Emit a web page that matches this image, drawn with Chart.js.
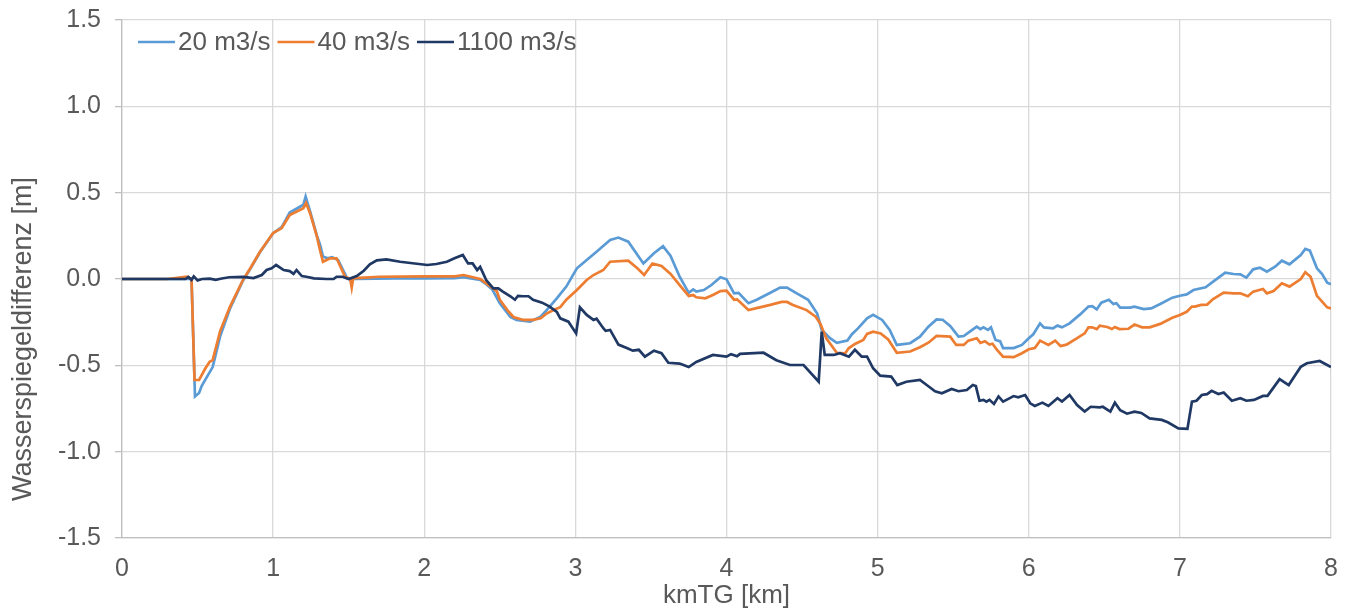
<!DOCTYPE html>
<html>
<head>
<meta charset="utf-8">
<script src="https://cdn.jsdelivr.net/npm/chart.js@4.4.1/dist/chart.umd.min.js"></script>
<style>
  html, body { margin: 0; padding: 0; background: #ffffff; }
  #wrap { width: 1357px; height: 613px; position: relative; }
</style>
</head>
<body>
<div id="wrap"><canvas id="c" width="1357" height="613"></canvas></div>
<script>
// Wasserspiegeldifferenz entlang kmTG für drei Abflüsse
const seriesLabels = ['20 m3/s', '40 m3/s', '1100 m3/s'];

const km20 = [0,0.3,0.46,0.483,0.51,0.527,0.56,0.60,0.65,0.715,0.80,0.85,0.913,1.0,1.057,1.11,1.16,1.20,1.215,1.245,1.29,1.31,1.33,1.36,1.39,1.43,1.49,1.52,1.55,1.8,2.0,2.2,2.26,2.37,2.41,2.45,2.50,2.57,2.61,2.70,2.77,2.81,2.877,2.94,3.01,3.075,3.14,3.23,3.285,3.35,3.45,3.52,3.58,3.63,3.69,3.75,3.78,3.80,3.85,3.90,3.96,4.00,4.05,4.08,4.145,4.20,4.29,4.355,4.40,4.465,4.54,4.60,4.63,4.685,4.73,4.80,4.83,4.87,4.93,4.97,5.03,5.08,5.127,5.215,5.28,5.336,5.39,5.43,5.48,5.535,5.57,5.61,5.656,5.68,5.70,5.73,5.75,5.78,5.81,5.83,5.90,5.955,6.0,6.03,6.075,6.10,6.16,6.19,6.22,6.27,6.34,6.395,6.42,6.45,6.48,6.53,6.56,6.58,6.605,6.67,6.70,6.76,6.81,6.87,6.95,7.0,7.045,7.09,7.17,7.22,7.30,7.355,7.40,7.44,7.485,7.53,7.576,7.63,7.675,7.725,7.80,7.83,7.86,7.907,7.94,7.975,8.0];
const diff20 = [0,0,0,-0.68,-0.66,-0.62,-0.57,-0.51,-0.33,-0.17,-0.01,0.06,0.155,0.265,0.30,0.385,0.41,0.43,0.477,0.39,0.25,0.20,0.13,0.12,0.126,0.11,0.004,0,0,0.004,0.004,0.005,0.01,-0.005,-0.03,-0.06,-0.14,-0.22,-0.237,-0.247,-0.218,-0.18,-0.112,-0.044,0.062,0.11,0.158,0.226,0.24,0.216,0.09,0.149,0.19,0.133,0.013,-0.08,-0.06,-0.073,-0.064,-0.035,0.01,-0.002,-0.083,-0.08,-0.14,-0.12,-0.08,-0.05,-0.05,-0.083,-0.12,-0.2,-0.295,-0.343,-0.37,-0.357,-0.32,-0.286,-0.228,-0.208,-0.237,-0.295,-0.382,-0.372,-0.334,-0.276,-0.234,-0.236,-0.272,-0.334,-0.33,-0.305,-0.276,-0.29,-0.28,-0.295,-0.28,-0.353,-0.36,-0.40,-0.40,-0.382,-0.343,-0.32,-0.257,-0.28,-0.286,-0.27,-0.28,-0.257,-0.205,-0.16,-0.157,-0.176,-0.137,-0.12,-0.145,-0.14,-0.166,-0.166,-0.16,-0.174,-0.17,-0.145,-0.108,-0.097,-0.089,-0.064,-0.048,-0.015,0.037,0.029,0.027,0.008,0.056,0.065,0.042,0.071,0.106,0.085,0.139,0.174,0.165,0.062,0.03,-0.021,-0.03];

const km40 = [0,0.3,0.43,0.46,0.48,0.51,0.55,0.58,0.60,0.65,0.715,0.80,0.85,0.913,1.0,1.057,1.11,1.20,1.218,1.245,1.29,1.31,1.33,1.377,1.42,1.476,1.51,1.52,1.53,1.61,1.7,2.0,2.2,2.26,2.37,2.41,2.48,2.50,2.55,2.59,2.656,2.72,2.77,2.81,2.855,2.90,2.94,3.01,3.075,3.12,3.185,3.23,3.35,3.41,3.455,3.51,3.57,3.63,3.69,3.75,3.78,3.80,3.86,3.91,3.96,4.0,4.05,4.07,4.145,4.22,4.29,4.365,4.40,4.44,4.53,4.59,4.62,4.66,4.73,4.785,4.81,4.85,4.905,4.93,4.97,5.02,5.07,5.127,5.215,5.28,5.336,5.39,5.48,5.52,5.57,5.60,5.656,5.68,5.71,5.74,5.76,5.79,5.83,5.90,5.955,6.0,6.04,6.075,6.13,6.175,6.21,6.25,6.32,6.37,6.395,6.42,6.45,6.47,6.52,6.55,6.57,6.60,6.66,6.70,6.75,6.80,6.87,6.95,7.0,7.045,7.08,7.10,7.14,7.18,7.22,7.29,7.355,7.40,7.42,7.45,7.485,7.55,7.576,7.62,7.675,7.725,7.80,7.83,7.865,7.907,7.975,8.0];
const diff40 = [0,0,0.013,0,-0.585,-0.585,-0.52,-0.48,-0.47,-0.30,-0.16,-0.006,0.064,0.158,0.266,0.295,0.37,0.41,0.44,0.38,0.245,0.168,0.10,0.12,0.12,0.013,0,-0.05,0.005,0.008,0.013,0.015,0.015,0.023,0,-0.025,-0.07,-0.12,-0.18,-0.22,-0.237,-0.237,-0.228,-0.2,-0.18,-0.163,-0.12,-0.064,-0.006,0.023,0.052,0.10,0.106,0.062,0.023,0.09,0.075,0.029,-0.035,-0.098,-0.093,-0.106,-0.112,-0.093,-0.07,-0.068,-0.12,-0.118,-0.18,-0.164,-0.15,-0.133,-0.133,-0.15,-0.18,-0.218,-0.257,-0.343,-0.427,-0.43,-0.40,-0.376,-0.353,-0.318,-0.305,-0.315,-0.35,-0.427,-0.42,-0.395,-0.369,-0.33,-0.334,-0.382,-0.382,-0.357,-0.343,-0.37,-0.36,-0.38,-0.375,-0.41,-0.45,-0.453,-0.43,-0.407,-0.40,-0.357,-0.382,-0.357,-0.388,-0.38,-0.343,-0.315,-0.28,-0.28,-0.29,-0.27,-0.278,-0.29,-0.278,-0.29,-0.288,-0.264,-0.28,-0.28,-0.26,-0.224,-0.208,-0.19,-0.16,-0.16,-0.15,-0.148,-0.116,-0.079,-0.083,-0.083,-0.09,-0.1,-0.073,-0.058,-0.083,-0.07,-0.025,-0.044,0,0.039,0.013,-0.098,-0.164,-0.17];

const km1100 = [0,0.42,0.44,0.46,0.475,0.5,0.53,0.58,0.62,0.66,0.71,0.80,0.87,0.925,0.957,0.99,1.02,1.07,1.11,1.135,1.155,1.19,1.22,1.27,1.355,1.40,1.42,1.46,1.50,1.553,1.60,1.64,1.686,1.75,1.84,2.02,2.08,2.15,2.20,2.255,2.29,2.32,2.35,2.37,2.41,2.457,2.49,2.52,2.57,2.60,2.62,2.655,2.69,2.72,2.78,2.83,2.877,2.90,2.954,3.005,3.03,3.075,3.12,3.14,3.185,3.20,3.23,3.285,3.34,3.38,3.42,3.46,3.52,3.57,3.615,3.69,3.75,3.80,3.91,4.0,4.03,4.07,4.09,4.245,4.33,4.42,4.51,4.61,4.63,4.65,4.71,4.75,4.81,4.85,4.895,4.93,4.97,5.017,5.09,5.13,5.19,5.28,5.325,5.38,5.425,5.49,5.535,5.59,5.63,5.65,5.674,5.70,5.72,5.74,5.77,5.80,5.83,5.90,5.93,5.976,6.01,6.04,6.09,6.13,6.19,6.22,6.27,6.32,6.37,6.41,6.47,6.49,6.54,6.57,6.605,6.65,6.70,6.745,6.80,6.88,6.92,6.99,7.05,7.08,7.11,7.145,7.18,7.21,7.255,7.29,7.344,7.40,7.44,7.49,7.55,7.58,7.66,7.72,7.80,7.84,7.925,8.0];
const diff1100 = [0,0,0.012,-0.005,0.015,-0.008,0,0.002,-0.005,0.003,0.01,0.012,0.005,0.023,0.052,0.062,0.081,0.052,0.046,0.03,0.052,0.017,0.013,0.004,0,0,0.013,0.013,0,0.017,0.048,0.085,0.108,0.114,0.10,0.081,0.087,0.10,0.12,0.139,0.09,0.09,0.052,0.07,-0.006,-0.054,-0.054,-0.073,-0.10,-0.12,-0.098,-0.10,-0.10,-0.12,-0.137,-0.16,-0.19,-0.228,-0.247,-0.315,-0.164,-0.208,-0.237,-0.23,-0.285,-0.30,-0.295,-0.38,-0.40,-0.415,-0.41,-0.45,-0.415,-0.43,-0.485,-0.49,-0.51,-0.48,-0.44,-0.45,-0.435,-0.447,-0.434,-0.427,-0.47,-0.498,-0.498,-0.595,-0.305,-0.44,-0.44,-0.43,-0.45,-0.41,-0.45,-0.45,-0.517,-0.56,-0.565,-0.614,-0.595,-0.585,-0.614,-0.65,-0.662,-0.637,-0.65,-0.643,-0.614,-0.62,-0.705,-0.70,-0.71,-0.70,-0.724,-0.68,-0.71,-0.678,-0.685,-0.672,-0.72,-0.735,-0.716,-0.735,-0.69,-0.71,-0.672,-0.73,-0.768,-0.74,-0.743,-0.74,-0.768,-0.716,-0.76,-0.78,-0.768,-0.776,-0.807,-0.816,-0.83,-0.865,-0.868,-0.71,-0.705,-0.672,-0.667,-0.648,-0.666,-0.657,-0.705,-0.69,-0.705,-0.70,-0.677,-0.677,-0.58,-0.614,-0.508,-0.488,-0.475,-0.51];

const xTicks = [0, 1, 2, 3, 4, 5, 6, 7, 8];
const yTicks = [-1.5, -1.0, -0.5, 0.0, 0.5, 1.0, 1.5];
const xTitle = 'kmTG [km]';
const yTitle = 'Wasserspiegeldifferenz [m]';

const seriesColors = ['#5B9BD5', '#ED7D31', '#1F3864'];
const textColor = '#595959';
const fontFamily = '"Liberation Sans", Arial, sans-serif';

function pairs(xs, ys) {
  return xs.map((x, i) => ({ x: x, y: ys[i] }));
}

// Legend inside the plot area (top-left) and the rotated y-axis title
const annotations = {
  id: 'annotations',
  afterDraw(chart) {
    const ctx = chart.ctx;
    const area = chart.chartArea;
    ctx.save();
    ctx.font = '26px ' + fontFamily;
    ctx.textBaseline = 'middle';
    let x = area.left + 16;
    const y = area.top + 22;
    chart.data.datasets.forEach((ds) => {
      ctx.strokeStyle = ds.borderColor;
      ctx.lineWidth = 2.7;
      ctx.beginPath();
      ctx.moveTo(x, y);
      ctx.lineTo(x + 37, y);
      ctx.stroke();
      x += 40;
      ctx.fillStyle = textColor;
      ctx.fillText(ds.label, x, y + 1);
      x += ctx.measureText(ds.label).width + 7;
    });

    ctx.translate(24, 339);
    ctx.rotate(-Math.PI / 2);
    ctx.textAlign = 'center';
    ctx.font = '27px ' + fontFamily;
    ctx.fillStyle = textColor;
    ctx.fillText(yTitle, 0, 0);
    ctx.restore();
  }
};

const datasets = [
  { label: seriesLabels[0], data: pairs(km20, diff20), borderColor: seriesColors[0], order: 2 },
  { label: seriesLabels[1], data: pairs(km40, diff40), borderColor: seriesColors[1], order: 1 },
  { label: seriesLabels[2], data: pairs(km1100, diff1100), borderColor: seriesColors[2], order: 0 }
].map(d => Object.assign(d, {
  backgroundColor: d.borderColor,
  borderWidth: 2.7,
  pointRadius: 0,
  tension: 0,
  fill: false
}));

new Chart(document.getElementById('c'), {
  type: 'line',
  data: { datasets: datasets },
  plugins: [annotations],
  options: {
    responsive: false,
    animation: false,
    events: [],
    layout: { padding: { left: 0, right: 26, top: 20, bottom: 0 } },
    plugins: { legend: { display: false }, tooltip: { enabled: false } },
    scales: {
      x: {
        type: 'linear',
        min: 0, max: 8,
        afterBuildTicks(scale) { scale.ticks = xTicks.map(v => ({ value: v })); },
        afterFit(scale) { scale.height = 75; scale.paddingLeft = 0; scale.paddingRight = 0; },
        grid: { color: '#D9D9D9', lineWidth: 1.3, drawTicks: false },
        border: { color: '#BFBFBF', width: 1.3 },
        ticks: {
          color: textColor, padding: 16,
          font: { family: fontFamily, size: 25 },
          callback: v => String(v)
        },
        title: {
          display: true, text: xTitle, color: textColor,
          font: { family: fontFamily, size: 26 },
          padding: { top: 0, bottom: 2 }
        }
      },
      y: {
        type: 'linear',
        min: -1.5, max: 1.5,
        afterBuildTicks(scale) { scale.ticks = yTicks.map(v => ({ value: v })); },
        afterFit(scale) { scale.width = 122; scale.paddingTop = 0; scale.paddingBottom = 0; },
        grid: { color: '#D9D9D9', lineWidth: 1.3, tickLength: 7, tickColor: '#BFBFBF' },
        border: { color: '#BFBFBF', width: 1.3 },
        ticks: {
          color: textColor, padding: 14,
          font: { family: fontFamily, size: 25 },
          callback: v => v.toFixed(1)
        }
      }
    }
  }
});
</script>
</body>
</html>
